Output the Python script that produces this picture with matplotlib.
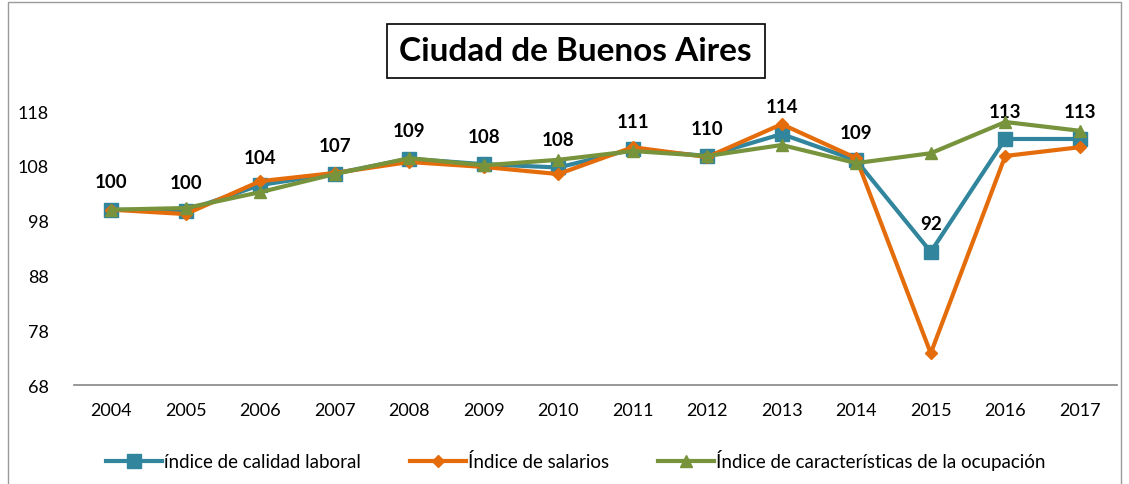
import matplotlib.pyplot as plt
from matplotlib.patches import Rectangle

plt.rcParams['font.family'] = ['Lato', 'DejaVu Sans']

years = ['2004', '2005', '2006', '2007', '2008', '2009', '2010',
         '2011', '2012', '2013', '2014', '2015', '2016', '2017']
calidad = [100, 99.8, 104.5, 106.6, 109.3, 108.3, 107.7,
           111.0, 109.8, 113.8, 109.0, 92.3, 112.9, 112.9]
salarios = [100, 99.2, 105.2, 106.7, 108.7, 107.8, 106.5,
            111.4, 109.6, 115.6, 109.4, 73.8, 109.8, 111.4]
caracteristicas = [100, 100.3, 103.2, 106.5, 109.4, 108.1, 109.1,
                   110.7, 109.8, 111.8, 108.5, 110.3, 116.0, 114.4]
yticks = [68, 78, 88, 98, 108, 118]

fig = plt.figure(figsize=(11.29, 4.85), dpi=100)
ax = fig.add_axes([74/1129, 0.204, (1117-74)/1129, 0.565])

x = range(len(years))
ax.plot(x, calidad, color='#31859C', lw=3, marker='s', ms=10,
        label='índice de calidad laboral', zorder=3)
ax.plot(x, salarios, color='#E46C0A', lw=3, marker='D', ms=6,
        label='Índice de salarios', zorder=4)
ax.plot(x, caracteristicas, color='#77933C', lw=3, marker='^', ms=8,
        label='Índice de características de la ocupación', zorder=5)

for i, v in enumerate(calidad):
    ax.annotate('%d' % round(v), (i, v), xytext=(0, 14), textcoords='offset points',
                ha='center', va='bottom', fontsize=13.5, fontweight='bold')

ax.set_xlim(-0.5, len(years) - 0.5)
ax.set_ylim(68, 118)
ax.set_yticks(yticks)
ax.set_xticks(list(x))
ax.set_xticklabels(years)
ax.tick_params(axis='both', length=0, labelsize=13, pad=12)
ax.tick_params(axis='y', pad=18)
for s in ['top', 'right', 'left']:
    ax.spines[s].set_visible(False)
ax.spines['bottom'].set_color('#868686')
ax.spines['bottom'].set_linewidth(1.2)
for ln in ax.lines:
    ln.set_clip_on(False)

fig.legend(loc='center', bbox_to_anchor=(0.51, 0.05), ncol=3, frameon=False,
           fontsize=13.5, handlelength=3, columnspacing=2.6, handletextpad=0.1)

fig.text(0.51, 0.893, 'Ciudad de Buenos Aires', ha='center', va='center',
         fontsize=24, fontweight='bold',
         bbox=dict(boxstyle='square,pad=0.38', fc='white', ec='black', lw=1.2))

fig.patches.append(Rectangle((8/1129, -0.01), (1121-8)/1129, 1.003, transform=fig.transFigure,
                             fill=False, ec='#9a9a9a', lw=1))

fig.savefig('out.png')
